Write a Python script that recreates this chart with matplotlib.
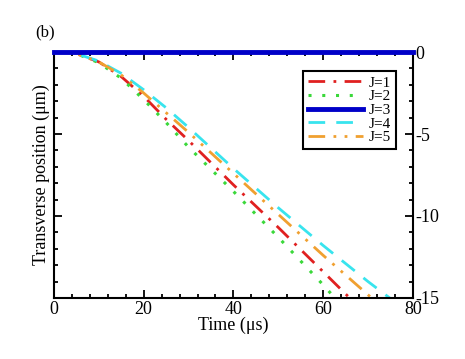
import matplotlib
matplotlib.use("Agg")
import matplotlib.pyplot as plt
from matplotlib.ticker import MultipleLocator

plt.rcParams["font.family"] = ["Liberation Serif", "DejaVu Serif"]
plt.rcParams["axes.unicode_minus"] = False

# values
t_j1 = [0, 3, 5, 10, 15, 20, 25, 30, 40, 50, 60, 65.9]
y_j1 = [0, 0, -0.1, -0.6, -1.5, -2.7, -4.1, -5.4, -8.1, -10.7, -13.4, -15.0]

t_j2 = [0, 3, 5, 10, 15, 20, 25, 30, 40, 50, 60, 62.6]
y_j2 = [0, 0, -0.1, -0.65, -1.6, -2.9, -4.3, -5.8, -8.5, -11.3, -14.2, -15.0]

t_j3 = [0, 80]
y_j3 = [0, 0]

t_j4 = [0, 3, 5, 10, 15, 20, 25, 30, 40, 50, 60, 70, 75.3]
y_j4 = [0, 0, -0.1, -0.55, -1.3, -2.3, -3.4, -4.6, -7.1, -9.5, -11.8, -14.0, -15.1]

t_j5 = [0, 3, 5, 10, 15, 20, 25, 30, 40, 50, 60, 70.8]
y_j5 = [0, 0, -0.1, -0.6, -1.4, -2.5, -3.7, -4.9, -7.4, -9.9, -12.4, -15.0]

fig = plt.figure(figsize=(4.65, 3.59), dpi=100)
ax = fig.add_axes([0.116, 0.170, 0.772, 0.685])

ax.plot(t_j1, y_j1, color="#e02020", lw=2, ls=(0, (6, 3, 1, 3)), label="J=1")
ax.plot(t_j2, y_j2, color="#3ad83a", lw=2.2, ls=(0, (1, 3.5)), label="J=2")
ax.plot(t_j3, y_j3, color="#0000c8", lw=3.5, ls="-", label="J=3", clip_on=False, zorder=5)
ax.plot(t_j4, y_j4, color="#38e4ee", lw=2, ls=(0, (6, 4)), label="J=4")
ax.plot(t_j5, y_j5, color="#f0a030", lw=2, ls=(0, (6, 3, 1, 3, 1, 3)), label="J=5")

ax.set_xlim(0, 80)
ax.set_ylim(-15, 0)
ax.xaxis.set_major_locator(MultipleLocator(20))
ax.xaxis.set_minor_locator(MultipleLocator(4))
ax.yaxis.set_major_locator(MultipleLocator(5))
ax.yaxis.set_minor_locator(MultipleLocator(1))
ax.tick_params(which="both", direction="in", top=True, right=True,
               left=True, labelleft=False, labelright=True, labelsize=13, width=1.3)
ax.tick_params(which="major", length=6, pad=2)
ax.tick_params(which="minor", length=3)
for s in ax.spines.values():
    s.set_linewidth(1.5)

ax.set_xlabel("Time (μs)", fontsize=13, labelpad=-1)
ax.set_ylabel("Transverse position (μm)", fontsize=13, labelpad=3)
fig.text(0.075, 0.900, "(b)", fontsize=12)

leg = ax.legend(loc="upper right", bbox_to_anchor=(0.952, 0.922), borderaxespad=0,
                fontsize=11, handlelength=3.6, labelspacing=0.0, borderpad=0.3,
                handletextpad=0.4, fancybox=False, framealpha=1, edgecolor="black")
leg.get_frame().set_linewidth(1.5)

fig.savefig("out.png", dpi=100)
